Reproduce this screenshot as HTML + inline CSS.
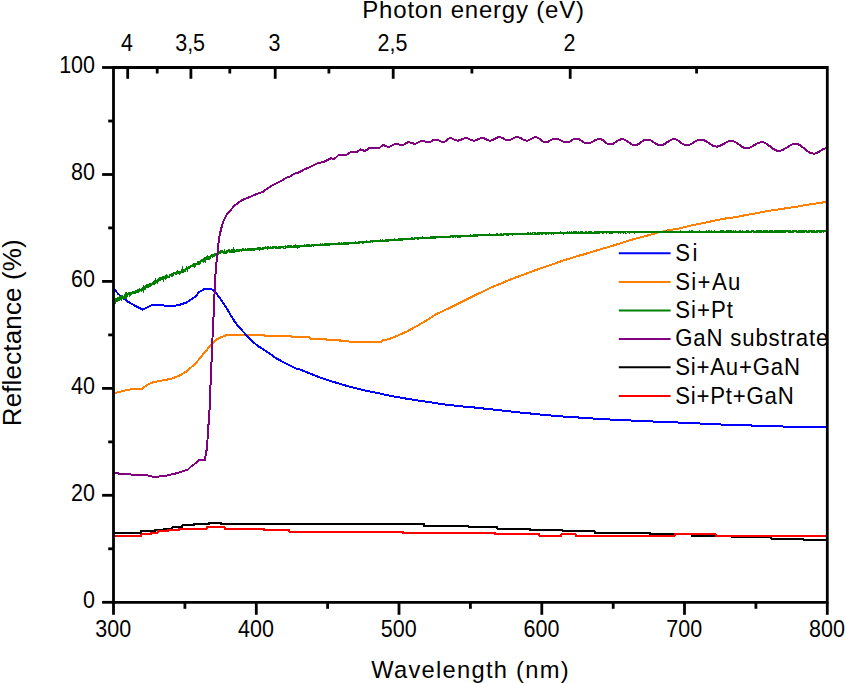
<!DOCTYPE html>
<html><head><meta charset="utf-8"><style>
html,body{margin:0;padding:0;background:#fff;}
body{width:845px;height:683px;overflow:hidden;font-family:"Liberation Sans",sans-serif;}
svg{display:block;}
</style></head><body>
<svg width="845" height="683" viewBox="0 0 845 683">
<rect width="845" height="683" fill="#fff"/>
<defs><clipPath id="c"><rect x="113.5" y="67.5" width="713.8" height="534.8"/></clipPath></defs>
<g clip-path="url(#c)" fill="none" stroke-linejoin="round" stroke-linecap="round" shape-rendering="crispEdges">
<path d="M113.5,532.8 L140.5,532.8 L140.5,531.3 L155.1,531.3 L155.1,530.0 L164.1,530.0 L164.1,528.7 L172.2,528.7 L172.2,527.3 L182.0,527.3 L182.0,525.4 L194.2,525.4 L194.2,524.1 L208.9,524.1 L208.9,522.9 L221.2,522.9 L221.2,524.3 L424.3,524.3 L424.3,526.0 L468.6,526.0 L468.6,527.4 L497.2,527.4 L497.2,528.7 L529.9,528.7 L529.9,530.0 L562.5,530.0 L562.5,531.3 L594.8,531.3 L594.8,533.0 L649.7,533.0 L649.7,534.2 L692.0,534.2 L692.0,535.9 L732.0,535.9 L732.0,536.8 L770.8,536.8 L770.8,538.6 L803.4,538.6 L803.4,539.8 L827.3,539.8" stroke="#000000" stroke-width="2"/>
<path d="M113.5,535.6 L141.4,535.6 L141.4,534.4 L151.4,534.4 L151.4,532.5 L157.5,532.5 L157.5,531.1 L167.9,531.1 L167.9,529.7 L179.3,529.7 L179.3,528.6 L207.0,528.6 L207.0,527.2 L224.5,527.2 L224.5,528.9 L264.0,528.9 L264.0,530.2 L289.4,530.2 L289.4,531.6 L403.0,531.6 L403.0,532.8 L495.3,532.8 L495.3,534.2 L539.4,534.2 L539.4,535.6 L561.3,535.6 L561.3,534.4 L575.5,534.4 L575.5,535.6 L674.7,535.6 L674.7,534.2 L715.7,534.2 L715.7,535.9 L827.3,535.9" stroke="#ff0000" stroke-width="2"/>
<path d="M113.5,393.5 L119.2,391.9 L125.4,390.4 L131.5,389.3 L142.3,388.8 L146.9,385.0 L153.1,382.2 L160.8,380.7 L171.5,378.8 L180.8,375.0 L186.9,371.2 L196.2,362.7 L203.8,353.5 L211.5,344.2 L217.7,338.8 L222.6,336.6 L227.8,334.6 L263.8,334.6 L264.8,335.7 L291.3,335.7 L292.3,337.0 L309.3,337.0 L310.3,338.6 L326.3,338.6 L327.3,339.9 L339.6,339.9 L340.6,341.4 L380.9,341.9 L382.3,340.5 L388.9,339.1 L398.4,335.3 L407.9,331.0 L417.3,325.8 L426.8,320.2 L436.3,314.0 L440.0,312.6 L447.1,309.1 L454.2,305.6 L461.3,302.0 L468.4,298.5 L475.5,294.9 L482.6,291.7 L489.7,288.2 L496.8,285.1 L500.0,284.0 L507.1,280.9 L514.2,278.0 L521.3,275.5 L528.4,272.7 L535.5,270.2 L542.6,267.7 L549.7,265.2 L556.8,262.8 L562.1,260.9 L569.2,258.7 L576.3,256.3 L583.4,254.5 L590.5,252.3 L597.6,250.2 L604.7,248.1 L611.8,246.0 L619.5,243.6 L628.9,240.5 L638.4,237.9 L647.9,235.4 L657.3,232.7 L666.8,230.6 L676.3,229.0 L681.0,228.0 L689.5,225.8 L698.9,223.9 L708.4,222.0 L717.9,219.8 L727.3,218.2 L736.8,217.0 L746.3,214.9 L755.8,213.3 L768.9,210.8 L778.4,209.4 L787.9,208.0 L797.3,206.6 L806.8,204.9 L816.3,203.5 L827.0,201.8" stroke="#ff8000" stroke-width="2"/>
<path d="M113.5,288.6 L118.5,294.2 L127.0,301.1 L135.6,306.0 L142.7,309.6 L151.2,305.3 L161.1,305.3 L169.6,306.0 L178.2,305.3 L186.7,302.5 L195.2,296.8 L199.5,291.7 L202.3,290.4 L204.9,288.6 L209.4,289.0 L212.2,289.5 L215.5,292.2 L217.9,295.4 L222.6,302.0 L228.8,311.7 L230.0,314.1 L235.1,322.3 L240.2,328.4 L246.4,335.1 L250.5,339.7 L257.7,345.9 L265.9,351.0 L276.1,358.2 L286.4,363.8 L296.6,368.9 L300.0,369.5 L309.5,373.3 L318.9,377.0 L328.4,380.4 L337.9,383.2 L347.3,386.0 L356.8,388.4 L366.3,390.8 L375.8,392.7 L391.0,395.9 L408.8,399.1 L426.5,401.7 L444.3,404.4 L460.0,406.2 L473.5,407.4 L487.0,408.9 L500.5,410.3 L514.0,411.9 L527.5,413.2 L543.2,414.8 L561.2,416.4 L581.4,417.7 L601.7,419.1 L628.7,420.4 L646.6,421.3 L655.7,421.6 L689.5,423.0 L723.2,424.6 L763.7,425.9 L808.7,427.3 L827.0,427.5" stroke="#0000ff" stroke-width="2"/>
<path d="M113.5,302.2 L114.1,301.3 L114.7,302.5 L115.3,300.3 L115.9,301.4 L116.5,300.5 L117.1,299.1 L117.7,300.1 L118.3,298.2 L118.9,299.1 L119.5,297.6 L120.1,297.3 L120.7,298.0 L121.3,298.9 L121.9,296.3 L122.5,296.3 L123.1,297.2 L123.7,297.8 L124.3,296.3 L124.9,295.5 L125.5,296.8 L126.1,294.4 L126.7,296.1 L127.3,294.5 L127.9,294.0 L128.5,293.7 L129.1,294.0 L129.7,295.0 L130.3,293.3 L130.9,294.0 L131.5,294.0 L132.1,293.1 L132.7,293.2 L133.3,291.8 L133.9,291.6 L134.5,291.7 L135.1,292.6 L135.7,291.7 L136.3,291.2 L136.9,291.6 L137.5,291.1 L138.1,290.4 L138.7,291.4 L139.3,290.9 L139.9,289.5 L140.5,290.0 L141.1,289.6 L141.7,290.2 L142.3,289.6 L142.9,288.3 L143.5,289.7 L144.1,287.3 L144.7,287.8 L145.3,288.3 L145.9,286.5 L146.5,287.0 L147.1,285.5 L147.7,286.7 L148.3,286.5 L148.9,285.7 L149.5,286.1 L150.1,284.4 L150.7,284.9 L151.3,284.3 L151.9,283.9 L152.5,283.3 L153.1,283.8 L153.7,283.8 L154.3,282.3 L154.9,282.5 L155.5,280.7 L156.1,281.9 L156.7,281.5 L157.3,282.0 L157.9,281.2 L158.5,279.6 L159.1,279.5 L159.7,279.9 L160.3,278.1 L160.9,278.9 L161.5,278.0 L162.1,277.6 L162.7,277.2 L163.3,278.7 L163.9,276.9 L164.5,276.9 L165.1,277.0 L165.7,277.9 L166.3,275.8 L166.9,276.4 L167.5,276.5 L168.1,277.1 L168.7,276.7 L169.3,276.6 L169.9,275.0 L170.5,275.1 L171.1,274.8 L171.7,275.8 L172.3,275.8 L172.9,273.7 L173.5,273.5 L174.1,273.4 L174.7,273.2 L175.3,273.6 L175.9,273.7 L176.5,272.7 L177.1,271.8 L177.7,272.6 L178.3,272.3 L178.9,272.6 L179.5,273.3 L180.1,272.4 L180.7,271.8 L181.3,271.8 L181.9,271.7 L182.5,269.9 L183.1,271.7 L183.7,271.2 L184.3,271.2 L184.9,270.7 L185.5,269.5 L186.1,269.3 L186.7,268.3 L187.3,269.4 L187.9,267.8 L188.5,267.5 L189.1,267.6 L189.7,267.2 L190.3,267.2 L190.9,266.2 L191.5,265.8 L192.1,265.8 L192.7,265.4 L193.3,265.7 L193.9,264.5 L194.5,266.2 L195.1,265.3 L195.7,263.8 L196.3,263.8 L196.9,263.7 L197.5,263.4 L198.1,262.5 L198.7,263.9 L199.3,263.9 L199.9,262.3 L200.5,262.0 L201.1,260.7 L201.7,260.4 L202.3,260.7 L202.9,260.2 L203.5,261.2 L204.1,259.3 L204.7,258.6 L205.3,260.5 L205.9,259.2 L206.5,257.9 L207.1,258.5 L207.7,257.0 L208.3,257.9 L208.9,258.6 L209.5,258.1 L210.1,257.4 L210.7,256.0 L211.3,256.0 L211.9,255.2 L212.5,256.4 L213.1,255.5 L213.7,255.8 L214.3,254.4 L214.9,253.8 L215.5,254.9 L216.1,255.1 L216.7,254.4 L217.3,254.0 L217.9,253.9 L218.5,253.6 L219.1,252.3 L219.7,252.9 L220.3,252.4 L220.9,251.4 L221.5,251.3 L222.1,251.8 L222.7,251.6 L223.3,252.6 L223.9,253.1 L224.5,251.7 L225.1,252.8 L225.7,252.8 L226.3,252.6 L226.9,251.1 L227.5,250.7 L228.1,250.6 L228.7,250.5 L229.3,250.4 L229.9,251.4 L230.5,252.0 L231.1,251.8 L231.7,250.8 L232.3,251.2 L232.9,251.5 L233.5,249.7 L234.1,251.0 L234.7,251.6 L235.3,250.8 L235.9,250.7 L236.5,250.4 L237.1,250.0 L237.7,250.7 L238.3,250.1 L238.9,250.6 L239.5,250.8 L240.1,250.0 L240.7,250.0 L241.3,250.6 L241.9,250.3 L242.5,249.6 L243.1,249.5 L243.7,249.5 L244.3,250.4 L244.9,250.2 L245.5,249.4 L246.1,250.1 L246.7,250.3 L247.3,249.9 L247.9,249.5 L248.5,249.7 L249.1,249.1 L249.7,248.9 L250.3,250.0 L250.9,249.6 L251.5,249.4 L252.1,249.8 L252.7,249.2 L253.3,249.7 L253.9,249.6 L254.5,248.8 L255.1,248.8 L255.7,248.8 L256.3,248.7 L256.9,249.0 L257.5,248.6 L258.1,248.7 L258.7,248.3 L259.3,249.2 L259.9,248.5 L260.5,248.6 L261.1,248.7 L261.7,249.0 L262.3,248.4 L262.9,248.9 L263.5,248.4 L264.1,248.4 L264.7,248.3 L265.3,247.6 L265.9,248.1 L266.5,247.7 L267.1,247.5 L267.7,248.4 L268.3,247.6 L268.9,247.9 L269.5,248.2 L270.1,247.9 L270.7,247.6 L271.3,247.8 L271.9,247.8 L272.5,248.1 L273.1,247.2 L273.7,247.7 L274.3,247.3 L274.9,247.3 L275.5,247.9 L276.1,247.5 L276.7,247.6 L277.3,247.8 L277.9,247.9 L278.5,247.3 L279.1,247.5 L279.7,247.3 L280.3,247.3 L280.9,247.5 L281.5,247.1 L282.1,247.2 L282.7,247.1 L283.3,247.6 L283.9,247.3 L284.5,247.5 L285.1,247.5 L285.7,246.7 L286.3,247.0 L286.9,247.4 L287.5,247.3 L288.1,246.4 L288.7,246.3 L289.3,246.7 L289.9,246.2 L290.5,246.4 L291.1,246.1 L291.7,246.8 L292.3,246.9 L292.9,247.0 L293.5,246.1 L294.1,246.7 L294.7,246.6 L295.3,246.0 L295.9,246.8 L296.5,246.9 L297.1,245.9 L297.7,246.8 L298.3,246.1 L298.9,246.2 L299.5,246.7 L300.1,246.3 L300.7,245.9 L301.3,246.0 L301.9,246.0 L302.5,245.9 L303.1,245.7 L303.7,245.8 L304.3,246.0 L304.9,245.5 L305.5,245.8 L306.1,245.7 L306.7,245.4 L307.3,245.6 L307.9,245.7 L308.5,245.6 L309.1,245.3 L309.7,245.8 L310.3,245.7 L310.9,245.8 L311.5,245.2 L312.1,245.3 L312.7,245.1 L313.3,245.5 L313.9,245.2 L314.5,245.0 L315.1,245.2 L315.7,245.4 L316.3,245.3 L316.9,245.0 L317.5,244.9 L318.1,245.3 L318.7,245.1 L319.3,245.1 L319.9,244.7 L320.5,244.6 L321.1,245.0 L321.7,244.8 L322.3,244.6 L322.9,245.0 L323.5,244.8 L324.1,244.9 L324.7,244.4 L325.3,244.8 L325.9,244.3 L326.5,244.8 L327.1,244.5 L327.7,244.4 L328.3,244.5 L328.9,244.7 L329.5,244.2 L330.1,244.1 L330.7,244.3 L331.3,244.1 L331.9,244.0 L332.5,244.0 L333.1,243.9 L333.7,244.0 L334.3,244.0 L334.9,244.0 L335.5,244.2 L336.1,243.9 L336.7,244.0 L337.3,243.7 L337.9,243.8 L338.5,243.6 L339.1,243.7 L339.7,243.5 L340.3,243.9 L340.9,243.8 L341.5,243.5 L342.1,243.6 L342.7,243.9 L343.3,243.4 L343.9,243.7 L344.5,243.5 L345.1,243.5 L345.7,243.7 L346.3,243.4 L346.9,243.4 L347.5,243.5 L348.1,243.6 L348.7,243.2 L349.3,243.4 L349.9,243.3 L350.5,243.2 L351.1,243.1 L351.7,243.0 L352.3,242.8 L352.9,242.8 L353.5,242.7 L354.1,243.0 L354.7,242.7 L355.3,242.6 L355.9,242.5 L356.5,242.9 L357.1,242.9 L357.7,242.7 L358.3,242.4 L358.9,242.4 L359.5,242.4 L360.1,242.4 L360.7,242.2 L361.3,242.3 L361.9,242.2 L362.5,242.5 L363.1,242.5 L363.7,242.2 L364.3,242.0 L364.9,242.3 L365.5,241.9 L366.1,241.9 L366.7,241.6 L367.3,241.8 L367.9,241.8 L368.5,241.8 L369.1,241.6 L369.7,241.7 L370.3,241.4 L370.9,241.5 L371.5,241.3 L372.1,241.5 L372.7,241.2 L373.3,241.1 L373.9,241.3 L374.5,241.2 L375.1,241.3 L375.7,241.3 L376.3,241.4 L376.9,241.3 L377.5,241.2 L378.1,241.3 L378.7,241.0 L379.3,240.9 L379.9,241.2 L380.5,240.7 L381.1,241.0 L381.7,240.9 L382.3,240.5 L382.9,240.9 L383.5,240.9 L384.1,240.7 L384.7,240.7 L385.3,240.7 L385.9,240.3 L386.5,240.4 L387.1,240.4 L387.7,240.5 L388.3,240.5 L388.9,240.4 L389.5,240.2 L390.1,240.4 L390.7,240.2 L391.3,240.2 L391.9,239.9 L392.5,239.7 L393.1,239.7 L393.7,239.8 L394.3,239.6 L394.9,240.0 L395.5,239.8 L396.1,239.8 L396.7,239.7 L397.3,239.7 L397.9,239.6 L398.5,239.2 L399.1,239.6 L399.7,239.6 L400.3,239.4 L400.9,239.4 L401.5,239.4 L402.1,239.0 L402.7,239.4 L403.3,239.1 L403.9,238.9 L404.5,239.0 L405.1,239.2 L405.7,238.9 L406.3,239.2 L406.9,239.3 L407.5,239.0 L408.1,238.9 L408.7,238.9 L409.3,239.0 L409.9,239.0 L410.5,238.9 L411.1,238.8 L411.7,238.5 L412.3,238.5 L412.9,238.5 L413.5,238.8 L414.1,238.5 L414.7,238.6 L415.3,238.2 L415.9,238.2 L416.5,238.3 L417.1,238.5 L417.7,238.5 L418.3,238.5 L418.9,238.2 L419.5,238.3 L420.1,238.2 L420.7,238.2 L421.3,237.9 L421.9,238.4 L422.5,237.9 L423.1,238.4 L423.7,238.3 L424.3,237.7 L424.9,237.9 L425.5,238.1 L426.1,238.2 L426.7,237.8 L427.3,237.7 L427.9,237.6 L428.5,238.0 L429.1,237.6 L429.7,237.7 L430.3,237.4 L430.9,237.6 L431.5,237.9 L432.1,237.3 L432.7,237.7 L433.3,237.5 L433.9,237.7 L434.5,237.5 L435.1,237.2 L435.7,237.6 L436.3,237.3 L436.9,237.0 L437.5,236.9 L438.1,237.2 L438.7,237.1 L439.3,237.0 L439.9,236.9 L440.5,237.0 L441.1,236.9 L441.7,237.2 L442.3,236.7 L442.9,237.1 L443.5,237.1 L444.1,236.7 L444.7,237.1 L445.3,237.0 L445.9,237.1 L446.5,236.7 L447.1,236.7 L447.7,236.7 L448.3,237.0 L448.9,236.8 L449.5,236.6 L450.1,236.6 L450.7,236.5 L451.3,236.3 L451.9,236.3 L452.5,236.7 L453.1,236.4 L453.7,236.7 L454.3,236.3 L454.9,236.3 L455.5,236.4 L456.1,236.2 L456.7,236.3 L457.3,236.6 L457.9,236.5 L458.5,236.5 L459.1,236.3 L459.7,236.5 L460.3,236.5 L460.9,236.2 L461.5,236.3 L462.1,235.8 L462.7,236.2 L463.3,236.0 L463.9,236.2 L464.5,236.1 L465.1,235.8 L465.7,235.7 L466.3,236.2 L466.9,235.7 L467.5,235.8 L468.1,235.7 L468.7,235.7 L469.3,235.9 L469.9,236.0 L470.5,235.6 L471.1,235.8 L471.7,235.6 L472.3,235.7 L472.9,235.6 L473.5,235.4 L474.1,235.4 L474.7,235.4 L475.3,235.8 L475.9,235.5 L476.5,235.3 L477.1,235.7 L477.7,235.7 L478.3,235.3 L478.9,235.1 L479.5,235.1 L480.1,235.1 L480.7,235.2 L481.3,235.0 L481.9,235.1 L482.5,235.1 L483.1,235.2 L483.7,235.4 L484.3,235.3 L484.9,235.1 L485.5,235.1 L486.1,235.1 L486.7,235.0 L487.3,234.9 L487.9,234.8 L488.5,234.9 L489.1,235.3 L489.7,234.7 L490.3,234.9 L490.9,235.0 L491.5,235.1 L492.1,234.7 L492.7,234.7 L493.3,234.7 L493.9,234.7 L494.5,234.7 L495.1,235.0 L495.7,234.9 L496.3,234.9 L496.9,234.4 L497.5,234.4 L498.1,234.8 L498.7,234.9 L499.3,234.6 L499.9,234.6 L500.5,234.3 L501.1,234.5 L501.7,234.8 L502.3,234.7 L502.9,234.7 L503.5,234.7 L504.1,234.3 L504.7,234.2 L505.3,234.2 L505.9,234.4 L506.5,234.5 L507.1,234.6 L507.7,234.4 L508.3,234.4 L508.9,234.4 L509.5,234.2 L510.1,234.2 L510.7,233.9 L511.3,234.3 L511.9,234.0 L512.5,234.4 L513.1,234.2 L513.7,234.0 L514.3,233.9 L514.9,233.9 L515.5,234.1 L516.1,234.2 L516.7,233.8 L517.3,233.7 L517.9,234.0 L518.5,234.0 L519.1,233.9 L519.7,233.8 L520.3,234.0 L520.9,233.6 L521.5,233.8 L522.1,233.9 L522.7,234.1 L523.3,233.9 L523.9,234.1 L524.5,233.8 L525.1,233.7 L525.7,233.6 L526.3,234.1 L526.9,233.9 L527.5,233.6 L528.1,233.5 L528.7,233.7 L529.3,233.8 L529.9,233.6 L530.5,233.5 L531.1,233.8 L531.7,233.9 L532.3,233.5 L532.9,233.3 L533.5,233.5 L534.1,233.5 L534.7,233.7 L535.3,233.4 L535.9,233.7 L536.5,233.7 L537.1,233.5 L537.7,233.3 L538.3,233.8 L538.9,233.4 L539.5,233.7 L540.1,233.3 L540.7,233.3 L541.3,233.6 L541.9,233.3 L542.5,233.7 L543.1,233.4 L543.7,233.2 L544.3,233.2 L544.9,233.3 L545.5,233.4 L546.1,233.6 L546.7,233.1 L547.3,233.2 L547.9,233.1 L548.5,233.5 L549.1,233.0 L549.7,232.9 L550.3,232.9 L550.9,233.1 L551.5,233.4 L552.1,233.4 L552.7,233.3 L553.3,233.4 L553.9,233.4 L554.5,233.0 L555.1,232.9 L555.7,233.3 L556.3,233.2 L556.9,232.8 L557.5,233.1 L558.1,232.9 L558.7,232.9 L559.3,232.9 L559.9,232.8 L560.5,232.6 L561.1,232.8 L561.7,232.8 L562.3,233.2 L562.9,232.7 L563.5,233.2 L564.1,232.7 L564.7,232.8 L565.3,233.0 L565.9,233.0 L566.5,232.8 L567.1,232.5 L567.7,232.8 L568.3,232.7 L568.9,233.0 L569.5,232.6 L570.1,232.7 L570.7,233.0 L571.3,232.5 L571.9,232.7 L572.5,232.9 L573.1,232.9 L573.7,232.4 L574.3,232.4 L574.9,232.4 L575.5,232.9 L576.1,232.5 L576.7,232.8 L577.3,232.9 L577.9,232.6 L578.5,232.5 L579.1,232.9 L579.7,232.7 L580.3,232.5 L580.9,232.8 L581.5,232.5 L582.1,232.5 L582.7,232.3 L583.3,232.8 L583.9,232.8 L584.5,232.7 L585.1,232.9 L585.7,232.3 L586.3,232.4 L586.9,232.6 L587.5,232.8 L588.1,232.8 L588.7,232.5 L589.3,232.4 L589.9,232.5 L590.5,232.5 L591.1,232.8 L591.7,232.3 L592.3,232.7 L592.9,232.6 L593.5,232.7 L594.1,232.6 L594.7,232.5 L595.3,232.4 L595.9,232.4 L596.5,232.4 L597.1,232.6 L597.7,232.2 L598.3,232.3 L598.9,232.6 L599.5,232.3 L600.1,232.2 L600.7,232.1 L601.3,232.4 L601.9,232.3 L602.5,232.7 L603.1,232.6 L603.7,232.7 L604.3,232.2 L604.9,232.1 L605.5,232.1 L606.1,232.3 L606.7,232.5 L607.3,232.3 L607.9,232.2 L608.5,232.3 L609.1,232.4 L609.7,232.4 L610.3,232.4 L610.9,232.5 L611.5,232.4 L612.1,232.1 L612.7,232.5 L613.3,232.2 L613.9,232.3 L614.5,232.2 L615.1,232.4 L615.7,232.1 L616.3,232.1 L616.9,232.1 L617.5,232.1 L618.1,232.5 L618.7,232.3 L619.3,232.1 L619.9,232.2 L620.5,232.5 L621.1,232.2 L621.7,232.1 L622.3,232.4 L622.9,232.3 L623.5,232.5 L624.1,232.0 L624.7,232.2 L625.3,232.4 L625.9,232.4 L626.5,232.5 L627.1,231.9 L627.7,232.1 L628.3,232.0 L628.9,232.0 L629.5,232.5 L630.1,232.2 L630.7,232.4 L631.3,232.1 L631.9,232.4 L632.5,232.1 L633.1,232.0 L633.7,232.3 L634.3,232.4 L634.9,231.9 L635.5,232.2 L636.1,232.2 L636.7,232.0 L637.3,232.1 L637.9,231.9 L638.5,232.0 L639.1,232.0 L639.7,232.2 L640.3,232.2 L640.9,232.0 L641.5,231.8 L642.1,232.0 L642.7,232.2 L643.3,231.9 L643.9,232.0 L644.5,231.9 L645.1,232.3 L645.7,232.1 L646.3,231.8 L646.9,231.9 L647.5,232.0 L648.1,232.1 L648.7,232.2 L649.3,231.8 L649.9,231.9 L650.5,232.2 L651.1,232.0 L651.7,231.9 L652.3,231.9 L652.9,232.3 L653.5,231.9 L654.1,232.1 L654.7,232.0 L655.3,232.0 L655.9,232.3 L656.5,232.3 L657.1,232.0 L657.7,231.9 L658.3,232.2 L658.9,231.9 L659.5,231.7 L660.1,232.3 L660.7,232.0 L661.3,232.2 L661.9,232.0 L662.5,232.2 L663.1,232.0 L663.7,231.8 L664.3,231.7 L664.9,232.0 L665.5,232.1 L666.1,232.2 L666.7,231.7 L667.3,232.1 L667.9,231.9 L668.5,232.0 L669.1,231.8 L669.7,231.8 L670.3,232.0 L670.9,232.2 L671.5,231.7 L672.1,231.9 L672.7,232.1 L673.3,232.2 L673.9,231.8 L674.5,231.7 L675.1,232.2 L675.7,232.2 L676.3,231.9 L676.9,231.7 L677.5,232.2 L678.1,231.9 L678.7,232.2 L679.3,232.0 L679.9,232.1 L680.5,231.7 L681.1,232.1 L681.7,231.7 L682.3,231.8 L682.9,232.1 L683.5,232.1 L684.1,231.7 L684.7,231.7 L685.3,231.8 L685.9,231.9 L686.5,231.8 L687.1,231.6 L687.7,231.7 L688.3,232.0 L688.9,232.1 L689.5,231.6 L690.1,231.9 L690.7,232.0 L691.3,231.6 L691.9,232.0 L692.5,231.6 L693.1,231.9 L693.7,231.9 L694.3,231.9 L694.9,231.7 L695.5,231.8 L696.1,231.9 L696.7,231.8 L697.3,231.9 L697.9,231.8 L698.5,231.8 L699.1,231.5 L699.7,231.9 L700.3,231.8 L700.9,231.6 L701.5,232.0 L702.1,232.0 L702.7,231.8 L703.3,231.6 L703.9,231.8 L704.5,231.6 L705.1,231.6 L705.7,231.7 L706.3,231.5 L706.9,231.7 L707.5,231.8 L708.1,231.5 L708.7,231.9 L709.3,231.5 L709.9,231.9 L710.5,231.9 L711.1,231.8 L711.7,231.5 L712.3,231.8 L712.9,231.7 L713.5,232.0 L714.1,231.5 L714.7,232.0 L715.3,232.0 L715.9,231.9 L716.5,231.9 L717.1,231.6 L717.7,232.0 L718.3,231.7 L718.9,232.0 L719.5,232.0 L720.1,231.5 L720.7,231.9 L721.3,232.0 L721.9,231.5 L722.5,231.6 L723.1,231.9 L723.7,231.5 L724.3,232.0 L724.9,231.6 L725.5,231.9 L726.1,231.5 L726.7,231.7 L727.3,232.0 L727.9,231.5 L728.5,231.6 L729.1,231.7 L729.7,231.6 L730.3,231.4 L730.9,231.5 L731.5,231.5 L732.1,232.0 L732.7,231.8 L733.3,231.9 L733.9,231.5 L734.5,231.9 L735.1,231.5 L735.7,231.7 L736.3,231.8 L736.9,231.6 L737.5,231.9 L738.1,231.7 L738.7,231.7 L739.3,231.9 L739.9,231.4 L740.5,232.0 L741.1,231.7 L741.7,231.6 L742.3,231.8 L742.9,231.5 L743.5,232.0 L744.1,231.7 L744.7,231.6 L745.3,231.8 L745.9,231.6 L746.5,231.5 L747.1,231.8 L747.7,231.4 L748.3,231.8 L748.9,231.5 L749.5,231.7 L750.1,231.9 L750.7,231.7 L751.3,231.7 L751.9,231.5 L752.5,231.3 L753.1,231.4 L753.7,231.4 L754.3,231.7 L754.9,231.6 L755.5,231.6 L756.1,231.9 L756.7,231.4 L757.3,231.5 L757.9,231.7 L758.5,231.3 L759.1,231.3 L759.7,231.5 L760.3,231.4 L760.9,231.5 L761.5,231.4 L762.1,231.7 L762.7,231.7 L763.3,231.4 L763.9,231.7 L764.5,231.6 L765.1,231.4 L765.7,231.9 L766.3,231.4 L766.9,231.4 L767.5,231.3 L768.1,231.7 L768.7,231.8 L769.3,231.8 L769.9,231.5 L770.5,231.4 L771.1,231.3 L771.7,231.7 L772.3,231.6 L772.9,231.5 L773.5,231.7 L774.1,231.5 L774.7,231.8 L775.3,231.7 L775.9,231.4 L776.5,231.8 L777.1,231.3 L777.7,231.6 L778.3,231.5 L778.9,231.4 L779.5,231.3 L780.1,231.7 L780.7,231.3 L781.3,231.6 L781.9,231.8 L782.5,231.3 L783.1,231.4 L783.7,231.6 L784.3,231.5 L784.9,231.6 L785.5,231.7 L786.1,231.3 L786.7,231.4 L787.3,231.4 L787.9,231.3 L788.5,231.8 L789.1,231.7 L789.7,231.6 L790.3,231.2 L790.9,231.7 L791.5,231.7 L792.1,231.5 L792.7,231.7 L793.3,231.5 L793.9,231.3 L794.5,231.3 L795.1,231.3 L795.7,231.2 L796.3,231.4 L796.9,231.6 L797.5,231.6 L798.1,231.7 L798.7,231.6 L799.3,231.3 L799.9,231.5 L800.5,231.4 L801.1,231.7 L801.7,231.5 L802.3,231.3 L802.9,231.6 L803.5,231.8 L804.1,231.3 L804.7,231.7 L805.3,231.2 L805.9,231.3 L806.5,231.3 L807.1,231.6 L807.7,231.7 L808.3,231.6 L808.9,231.4 L809.5,231.7 L810.1,231.4 L810.7,231.3 L811.3,231.7 L811.9,231.5 L812.5,231.6 L813.1,231.5 L813.7,231.7 L814.3,231.4 L814.9,231.6 L815.5,231.6 L816.1,231.6 L816.7,231.4 L817.3,231.6 L817.9,231.5 L818.5,231.3 L819.1,231.3 L819.7,231.5 L820.3,231.2 L820.9,231.7 L821.5,231.2 L822.1,231.1 L822.7,231.2 L823.3,231.7 L823.9,231.3 L824.5,231.2 L825.1,231.1 L825.7,231.1 L826.3,231.5 L826.9,231.5" stroke="#008000" stroke-width="2.2" stroke-linejoin="miter" stroke-linecap="butt"/>
<path d="M113.5,472.6 L123.3,474.4 L144.6,474.7 L154.4,477.0 L166.8,475.6 L177.5,473.0 L188.1,469.4 L190.0,467.4 L194.4,464.1 L199.7,459.8 L205.2,459.8 L205.6,455.4 L206.6,450.0 L207.3,442.3 L208.1,432.0 L208.7,421.2 L209.5,410.0 L210.0,395.0 L211.0,375.0 L211.7,357.8 L212.4,340.0 L213.2,323.4 L213.9,310.0 L214.6,291.4 L215.7,270.4 L217.5,252.8 L218.5,242.6 L219.6,235.6 L221.2,228.5 L223.2,221.5 L226.9,214.2 L229.7,211.0 L234.5,205.8 L239.2,202.0 L243.9,199.1 L248.7,197.5 L253.4,195.4 L258.1,193.5 L262.9,192.0 L267.6,188.3 L272.3,185.4 L277.1,183.0 L281.8,180.7 L286.6,177.6 L290.0,176.5 L294.7,173.6 L299.5,172.2 L304.2,169.4 L308.9,167.5 L313.7,165.1 L318.4,162.7 L323.1,162.3 L327.9,159.9 L331.2,158.0 L334.0,159.4 L338.3,155.2 L345.9,155.2 L349.7,152.5 L356.3,152.3 L360.5,149.5 L361.6,149.7 L362.6,150.2 L363.6,150.6 L364.7,150.8 L365.8,150.5 L367.0,149.8 L368.1,148.8 L369.3,148.1 L370.4,147.8 L371.5,147.8 L372.5,147.8 L373.6,147.8 L374.6,147.8 L375.7,147.8 L376.8,147.8 L377.8,147.8 L378.9,147.8 L380.0,147.4 L381.0,146.5 L382.1,145.6 L383.2,145.2 L384.2,145.4 L385.3,145.8 L386.3,146.3 L387.4,146.7 L388.4,146.9 L389.4,146.8 L390.4,146.4 L391.4,145.9 L392.4,145.3 L393.5,144.7 L394.5,144.2 L395.5,143.8 L396.5,143.7 L397.5,143.8 L398.6,144.2 L399.6,144.7 L400.7,145.1 L401.7,145.2 L402.7,145.1 L403.7,144.7 L404.7,144.1 L405.8,143.4 L406.8,142.8 L407.8,142.4 L408.8,142.3 L409.8,142.4 L410.8,142.7 L411.9,143.0 L412.9,143.3 L413.9,143.6 L414.9,143.7 L415.9,143.6 L416.9,143.2 L417.9,142.6 L419.0,142.0 L420.0,141.4 L421.0,141.0 L422.0,140.9 L423.0,141.0 L424.1,141.2 L425.1,141.6 L426.1,142.0 L427.2,142.2 L428.2,142.3 L429.3,142.2 L430.4,141.8 L431.5,141.2 L432.5,140.6 L433.6,140.0 L434.7,139.6 L435.8,139.5 L436.9,139.6 L437.9,140.0 L439.0,140.5 L440.1,141.0 L441.2,141.5 L442.2,141.9 L443.3,142.0 L444.3,141.8 L445.3,141.3 L446.3,140.5 L447.4,139.7 L448.4,138.9 L449.4,138.4 L450.4,138.2 L451.4,138.3 L452.4,138.7 L453.4,139.1 L454.5,139.7 L455.5,140.1 L456.5,140.5 L457.5,140.6 L458.6,140.5 L459.6,140.2 L460.7,139.8 L461.8,139.3 L462.8,138.9 L463.9,138.5 L464.9,138.2 L466.0,138.1 L467.1,138.2 L468.2,138.6 L469.3,139.1 L470.5,139.6 L471.6,140.1 L472.7,140.5 L473.8,140.6 L474.9,140.5 L475.9,140.2 L477.0,139.8 L478.1,139.3 L479.2,138.9 L480.2,138.5 L481.3,138.2 L482.4,138.1 L483.5,138.2 L484.6,138.6 L485.7,139.1 L486.9,139.6 L488.0,140.1 L489.1,140.5 L490.2,140.6 L491.2,140.5 L492.2,140.2 L493.3,139.7 L494.3,139.2 L495.3,138.5 L496.3,138.0 L497.4,137.5 L498.4,137.2 L499.4,137.1 L500.5,137.2 L501.5,137.6 L502.6,138.1 L503.6,138.7 L504.7,139.3 L505.8,139.8 L506.8,140.2 L507.9,140.3 L508.9,140.2 L509.9,139.9 L511.0,139.5 L512.0,139.0 L513.0,138.4 L514.0,137.9 L515.1,137.5 L516.1,137.2 L517.1,137.1 L518.2,137.2 L519.3,137.5 L520.4,138.0 L521.5,138.5 L522.6,139.2 L523.7,139.7 L524.8,140.2 L525.9,140.5 L527.0,140.6 L528.1,140.5 L529.1,140.1 L530.2,139.5 L531.3,138.8 L532.4,138.2 L533.5,137.6 L534.5,137.2 L535.6,137.1 L536.7,137.3 L537.8,137.7 L538.9,138.4 L540.0,139.2 L541.1,140.2 L542.2,141.0 L543.3,141.7 L544.4,142.1 L545.5,142.3 L546.6,142.2 L547.7,141.9 L548.8,141.4 L549.9,140.7 L551.0,140.1 L552.1,139.5 L553.2,138.9 L554.3,138.6 L555.4,138.5 L556.4,138.6 L557.5,138.8 L558.5,139.2 L559.5,139.7 L560.6,140.2 L561.6,140.8 L562.7,141.3 L563.7,141.8 L564.7,142.2 L565.8,142.4 L566.8,142.5 L567.8,142.4 L568.8,142.0 L569.9,141.5 L570.9,140.8 L571.9,140.2 L572.9,139.5 L574.0,139.0 L575.0,138.6 L576.0,138.5 L577.0,138.6 L578.1,138.9 L579.1,139.4 L580.1,140.0 L581.2,140.6 L582.2,141.4 L583.3,142.0 L584.3,142.6 L585.3,143.1 L586.4,143.4 L587.4,143.5 L588.4,143.4 L589.4,143.2 L590.4,142.8 L591.4,142.3 L592.4,141.8 L593.5,141.2 L594.5,140.6 L595.5,140.1 L596.5,139.6 L597.5,139.2 L598.5,139.0 L599.5,138.9 L600.6,139.0 L601.6,139.4 L602.7,140.1 L603.7,140.8 L604.8,141.7 L605.9,142.6 L606.9,143.3 L608.0,144.0 L609.0,144.4 L610.1,144.5 L611.1,144.4 L612.1,144.1 L613.1,143.7 L614.1,143.2 L615.1,142.5 L616.1,141.8 L617.1,141.2 L618.1,140.5 L619.1,140.0 L620.1,139.6 L621.1,139.3 L622.1,139.2 L623.2,139.3 L624.2,139.6 L625.3,140.1 L626.4,140.7 L627.4,141.4 L628.5,142.2 L629.6,143.0 L630.6,143.7 L631.7,144.3 L632.8,144.8 L633.8,145.1 L634.9,145.2 L635.9,145.1 L636.9,144.8 L637.9,144.4 L638.9,143.8 L639.9,143.1 L641.0,142.3 L642.0,141.6 L643.0,140.9 L644.0,140.3 L645.0,139.9 L646.0,139.6 L647.0,139.5 L648.0,139.6 L649.1,139.8 L650.1,140.2 L651.2,140.7 L652.2,141.3 L653.2,142.0 L654.3,142.7 L655.3,143.4 L656.3,144.0 L657.4,144.5 L658.4,144.9 L659.5,145.1 L660.5,145.2 L661.5,145.1 L662.6,144.9 L663.6,144.4 L664.7,143.9 L665.7,143.3 L666.7,142.6 L667.8,141.8 L668.8,141.1 L669.8,140.5 L670.9,140.0 L671.9,139.5 L673.0,139.3 L674.0,139.2 L675.1,139.3 L676.1,139.6 L677.2,140.1 L678.2,140.7 L679.3,141.4 L680.4,142.2 L681.4,143.0 L682.5,143.7 L683.5,144.3 L684.6,144.8 L685.6,145.1 L686.7,145.2 L687.7,145.1 L688.7,144.9 L689.7,144.6 L690.8,144.1 L691.8,143.6 L692.8,143.0 L693.8,142.3 L694.8,141.7 L695.8,141.1 L696.8,140.6 L697.9,140.1 L698.9,139.8 L699.9,139.6 L700.9,139.5 L701.9,139.6 L703.0,139.8 L704.0,140.2 L705.1,140.7 L706.1,141.3 L707.2,142.0 L708.2,142.7 L709.3,143.4 L710.3,144.1 L711.4,144.8 L712.4,145.4 L713.5,145.9 L714.5,146.3 L715.6,146.5 L716.6,146.6 L717.6,146.5 L718.7,146.3 L719.7,146.0 L720.7,145.5 L721.8,145.0 L722.8,144.4 L723.9,143.8 L724.9,143.1 L725.9,142.5 L727.0,142.0 L728.0,141.5 L729.0,141.2 L730.1,141.0 L731.1,140.9 L732.1,141.0 L733.2,141.2 L734.2,141.6 L735.3,142.1 L736.3,142.7 L737.3,143.4 L738.4,144.2 L739.4,144.9 L740.5,145.7 L741.5,146.4 L742.5,147.0 L743.6,147.5 L744.6,147.9 L745.7,148.1 L746.7,148.2 L747.7,148.1 L748.7,147.9 L749.7,147.6 L750.7,147.2 L751.7,146.7 L752.7,146.1 L753.7,145.5 L754.7,144.9 L755.7,144.3 L756.7,143.7 L757.7,143.2 L758.7,142.8 L759.7,142.5 L760.7,142.3 L761.7,142.2 L762.8,142.3 L763.8,142.5 L764.9,142.9 L765.9,143.5 L767.0,144.1 L768.0,144.9 L769.1,145.7 L770.2,146.5 L771.2,147.3 L772.3,148.1 L773.3,148.9 L774.4,149.5 L775.4,150.1 L776.5,150.5 L777.5,150.7 L778.6,150.8 L779.7,150.7 L780.7,150.5 L781.8,150.2 L782.8,149.8 L783.9,149.3 L784.9,148.7 L786.0,148.0 L787.0,147.4 L788.1,146.7 L789.2,146.0 L790.2,145.4 L791.3,144.9 L792.3,144.5 L793.4,144.2 L794.4,144.0 L795.5,143.9 L796.5,144.0 L797.5,144.2 L798.5,144.5 L799.5,145.0 L800.6,145.6 L801.6,146.3 L802.6,147.1 L803.6,147.9 L804.6,148.8 L805.6,149.6 L806.6,150.4 L807.6,151.2 L808.6,151.9 L809.7,152.5 L810.7,153.0 L811.7,153.3 L812.7,153.5 L813.7,153.6 L814.7,153.5 L815.7,153.3 L816.8,152.9 L817.8,152.4 L818.8,151.9 L819.8,151.2 L820.9,150.6 L821.9,149.9 L822.9,149.4 L823.9,148.9 L825.0,148.5 L826.0,148.3 L827.0,148.2" stroke="#800080" stroke-width="2"/>
</g>
<g stroke="#000" stroke-width="2.8" fill="none" stroke-linecap="square">
<path d="M113.5,67.5 H827.3 V602.3 H113.5 Z"/>
</g>
<g stroke="#000" stroke-width="2.8" fill="none" stroke-linecap="butt">
<path d="M102.1,602.3 H113.5"/>
<path d="M102.1,495.3 H113.5"/>
<path d="M102.1,388.4 H113.5"/>
<path d="M102.1,281.4 H113.5"/>
<path d="M102.1,174.5 H113.5"/>
<path d="M102.1,67.5 H113.5"/>
<path d="M108.2,548.8 H113.5"/>
<path d="M108.2,441.9 H113.5"/>
<path d="M108.2,334.9 H113.5"/>
<path d="M108.2,227.9 H113.5"/>
<path d="M108.2,121.0 H113.5"/>
<path d="M113.5,602.3 V614.8"/>
<path d="M256.3,602.3 V614.8"/>
<path d="M399.0,602.3 V614.8"/>
<path d="M541.8,602.3 V614.8"/>
<path d="M684.5,602.3 V614.8"/>
<path d="M827.3,602.3 V614.8"/>
<path d="M184.9,602.3 V608.8"/>
<path d="M327.6,602.3 V608.8"/>
<path d="M470.4,602.3 V608.8"/>
<path d="M613.2,602.3 V608.8"/>
<path d="M755.9,602.3 V608.8"/>
<path d="M127.7,67.5 V78.8"/>
<path d="M190.9,67.5 V78.8"/>
<path d="M275.2,67.5 V78.8"/>
<path d="M393.2,67.5 V78.8"/>
<path d="M570.2,67.5 V78.8"/>
<path d="M157.2,67.5 V73.5"/>
<path d="M229.8,67.5 V73.5"/>
<path d="M328.9,67.5 V73.5"/>
<path d="M471.9,67.5 V73.5"/>
<path d="M696.6,67.5 V73.5"/>
</g>
<g font-family="'Liberation Sans', sans-serif" font-size="23.0" fill="#000">
<text transform="translate(95.00,607.60) scale(0.935,1)" text-anchor="end">0</text>
<text transform="translate(95.00,500.64) scale(0.935,1)" text-anchor="end">20</text>
<text transform="translate(95.00,393.68) scale(0.935,1)" text-anchor="end">40</text>
<text transform="translate(95.00,286.72) scale(0.935,1)" text-anchor="end">60</text>
<text transform="translate(95.00,179.76) scale(0.935,1)" text-anchor="end">80</text>
<text transform="translate(95.00,72.80) scale(0.935,1)" text-anchor="end">100</text>
<text transform="translate(113.20,636.50) scale(0.935,1)" text-anchor="middle">300</text>
<text transform="translate(255.96,636.50) scale(0.935,1)" text-anchor="middle">400</text>
<text transform="translate(398.72,636.50) scale(0.935,1)" text-anchor="middle">500</text>
<text transform="translate(541.48,636.50) scale(0.935,1)" text-anchor="middle">600</text>
<text transform="translate(684.24,636.50) scale(0.935,1)" text-anchor="middle">700</text>
<text transform="translate(827.00,636.50) scale(0.935,1)" text-anchor="middle">800</text>
<text transform="translate(126.92,50.80) scale(0.935,1)" text-anchor="middle">4</text>
<text transform="translate(190.13,50.80) scale(0.935,1)" text-anchor="middle">3,5</text>
<text transform="translate(274.42,50.80) scale(0.935,1)" text-anchor="middle">3</text>
<text transform="translate(392.42,50.80) scale(0.935,1)" text-anchor="middle">2,5</text>
<text transform="translate(569.42,50.80) scale(0.935,1)" text-anchor="middle">2</text>
</g>
<text x="362.3" y="17.8" font-family="'Liberation Sans', sans-serif" font-size="24" letter-spacing="0.8">Photon energy (eV)</text>
<text x="371.3" y="677.5" font-family="'Liberation Sans', sans-serif" font-size="23.7" letter-spacing="1.27">Wavelength (nm)</text>
<text transform="translate(21.2,426.3) rotate(-90)" x="0" y="0" font-family="'Liberation Sans', sans-serif" font-size="26" letter-spacing="0.15">Reflectance (%)</text>
<path d="M618.8,253.3 H670.6" stroke="#0000ff" stroke-width="2"/>
<text transform="translate(675.2,260.80) scale(0.925,1)" font-family="'Liberation Sans', sans-serif" font-size="24.0" letter-spacing="2.60">Si</text>
<path d="M618.8,282.1 H670.6" stroke="#ff8000" stroke-width="2"/>
<text transform="translate(675.2,289.60) scale(0.925,1)" font-family="'Liberation Sans', sans-serif" font-size="24.0" letter-spacing="1.45">Si+Au</text>
<path d="M618.8,310.4 H670.6" stroke="#008000" stroke-width="2"/>
<text transform="translate(675.2,317.90) scale(0.925,1)" font-family="'Liberation Sans', sans-serif" font-size="24.0" letter-spacing="1.10">Si+Pt</text>
<path d="M618.8,338.9 H670.6" stroke="#800080" stroke-width="2"/>
<text transform="translate(675.2,346.40) scale(0.925,1)" font-family="'Liberation Sans', sans-serif" font-size="24.0" letter-spacing="0.90">GaN substrate</text>
<path d="M618.8,367.3 H670.6" stroke="#000000" stroke-width="2"/>
<text transform="translate(675.2,374.80) scale(0.925,1)" font-family="'Liberation Sans', sans-serif" font-size="24.0" letter-spacing="0.85">Si+Au+GaN</text>
<path d="M618.8,396.0 H670.6" stroke="#ff0000" stroke-width="2"/>
<text transform="translate(675.2,403.50) scale(0.925,1)" font-family="'Liberation Sans', sans-serif" font-size="24.0" letter-spacing="0.85">Si+Pt+GaN</text>
</svg>
</body></html>
